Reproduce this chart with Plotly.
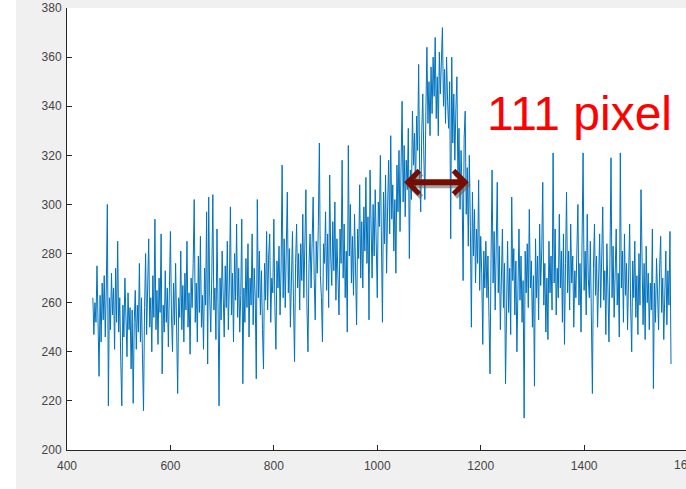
import plotly.graph_objects as go

# ---- data ----
x_start = 450
x_step = 2
intensity = [
    262, 247, 260, 252, 275, 250, 230, 263, 244, 268, 253, 271, 246, 266, 300, 218, 262, 249, 272, 255,
    266, 241, 274, 252, 285, 248, 262, 236, 218, 259, 246, 270, 252, 238, 264, 249, 258, 233, 257, 219,
    252, 265, 241, 259, 248, 276, 244, 262, 237, 216, 258, 280, 247, 266, 286, 250, 262, 240, 271, 254,
    294, 249, 265, 243, 270, 256, 288, 231, 259, 248, 273, 252, 266, 242, 261, 289, 255, 240, 268, 251,
    276, 246, 223, 262, 254, 281, 249, 267, 244, 272, 257, 285, 250, 264, 239, 270, 258, 276, 302, 252,
    268, 244, 279, 256, 287, 250, 263, 241, 274, 259, 297, 235, 303, 262, 248, 271, 304, 257, 266, 245,
    290, 260, 218, 270, 253, 281, 262, 246, 275, 258, 285, 249, 268, 299, 255, 272, 244, 280, 261, 292,
    254, 274, 248, 263, 294, 227, 266, 252, 278, 258, 284, 246, 270, 259, 288, 251, 274, 262, 229, 302,
    262, 281, 255, 273, 249, 233, 276, 261, 289, 257, 279, 288, 252, 270, 264, 294, 258, 241, 277, 266,
    283, 255, 274, 316, 262, 286, 258, 277, 305, 264, 282, 250, 271, 289, 260, 236, 276, 292, 266, 280,
    257, 284, 269, 296, 262, 281, 306, 258, 240, 276, 288, 266, 295, 303, 270, 253, 285, 272, 291, 325,
    271, 262, 244, 284, 276, 297, 265, 288, 258, 312, 279, 267, 293, 273, 301, 261, 286, 270, 255, 290,
    276, 318, 270, 292, 262, 281, 248, 324, 279, 300, 268, 287, 263, 296, 275, 251, 290, 278, 308, 270,
    293, 266, 299, 281, 311, 276, 295, 253, 314, 284, 270, 300, 279, 306, 287, 262, 301, 291, 320, 282,
    252, 305, 284, 312, 272, 299, 318, 288, 328, 294, 308, 281, 302, 272, 316, 297, 322, 289, 312, 342,
    301, 324, 295, 318, 306, 331, 278, 314, 302, 338, 316, 329, 305, 336, 322, 357, 312, 297, 330, 345,
    320, 302, 338, 364, 333, 350, 328, 356, 337, 360, 344, 368, 335, 352, 328, 362, 345, 358, 372, 340,
    355, 333, 360, 342, 331, 350, 286, 360, 325, 345, 318, 339, 352, 308, 331, 298, 322, 306, 269, 327,
    338, 296, 315, 283, 320, 291, 250, 305, 279, 298, 268, 290, 276, 310, 265, 287, 272, 243, 281, 266,
    285, 262, 279, 254, 231, 278, 314, 268, 289, 257, 276, 309, 264, 283, 249, 272, 290, 258, 276, 227,
    266, 285, 256, 274, 247, 303, 269, 282, 255, 277, 240, 272, 290, 261, 279, 252, 269, 213, 281, 264,
    284, 258, 298, 266, 277, 250, 271, 226, 286, 262, 279, 253, 292, 267, 281, 309, 259, 276, 248, 270,
    245, 285, 264, 279, 257, 321, 268, 290, 255, 274, 262, 296, 266, 281, 252, 288, 243, 276, 305, 264,
    281, 257, 292, 268, 279, 250, 273, 262, 287, 300, 259, 276, 248, 284, 321, 265, 281, 255, 296, 270,
    262, 285, 251, 223, 274, 292, 263, 279, 250, 270, 288, 258, 276, 299, 261, 273, 247, 284, 266, 244,
    278, 319, 262, 283, 254, 275, 290, 259, 272, 246, 321, 266, 281, 252, 288, 263, 276, 249, 270, 292,
    258, 240, 277, 262, 285, 254, 271, 247, 280, 259, 306, 264, 251, 276, 245, 283, 260, 272, 249, 268,
    257, 290, 225, 268, 252, 278, 260, 249, 274, 287, 256, 270, 245, 266, 281, 251, 273, 259, 289, 235,
]
pixel = [x_start + i * x_step for i in range(len(intensity))]

x_ticks = [400, 600, 800, 1000, 1200, 1400]
y_ticks = [200, 220, 240, 260, 280, 300, 320, 340, 360, 380]
x_range = [400, 1597]
y_range = [200, 380]

# annotation: width marker
arrow_left = 1049
arrow_right = 1177
arrow_level = 309
label_text = "111 pixel"
label_x = 1208
label_y = 337

FONT = "Liberation Sans, Arial, sans-serif"

fig = go.Figure()
fig.add_trace(go.Scatter(
    x=pixel, y=intensity, mode="lines",
    line=dict(color="#0072BD", width=1),
    showlegend=False, hoverinfo="skip",
))

axis_common = dict(
    showgrid=False, zeroline=False, showline=True, linecolor="#262626", linewidth=1,
    ticks="inside", ticklen=5, tickcolor="#262626", tickwidth=1,
    tickfont=dict(family=FONT, size=12, color="#444444"),
)
fig.update_xaxes(range=x_range, tickvals=x_ticks, ticklabelstandoff=5, **axis_common)
fig.update_yaxes(range=y_range, tickvals=y_ticks, ticklabelstandoff=2, **axis_common)

W, H = 686, 489
ml, mr, mt, mb = 67, 0, 8, 39
pw, ph = W - ml - mr, H - mt - mb

fig.update_layout(
    width=W, height=H,
    margin=dict(l=ml, r=mr, t=mt, b=mb, pad=0),
    paper_bgcolor="#f0f0f0", plot_bgcolor="#ffffff",
    shapes=[dict(type="rect", xref="paper", yref="paper", layer="below",
                 x0=-ml / pw - 0.01, x1=-(ml - 16) / pw, y0=-mb / ph - 0.01, y1=1 + mt / ph + 0.01,
                 fillcolor="#ffffff", line=dict(width=0))],
)

# clipped "1600" tick label at right edge
fig.add_annotation(text="1600", xref="paper", yref="paper", x=(620.4) / pw, y=0,
                   xanchor="center", yanchor="middle", yshift=-15, showarrow=False,
                   font=dict(family=FONT, size=12, color="#444444"))

# arrow shadow
fig.add_annotation(x=arrow_right, y=arrow_level, ax=arrow_left, ay=arrow_level,
                   xref="x", yref="y", axref="x", ayref="y", text="",
                   showarrow=True, arrowside="end+start", arrowhead=4, arrowsize=0.75,
                   arrowwidth=6, arrowcolor="rgba(90,90,90,0.55)", xshift=2, yshift=-3,
                   standoff=0, startstandoff=0)
# arrow
fig.add_annotation(x=arrow_right, y=arrow_level, ax=arrow_left, ay=arrow_level,
                   xref="x", yref="y", axref="x", ayref="y", text="",
                   showarrow=True, arrowside="end+start", arrowhead=4, arrowsize=0.75,
                   arrowwidth=6, arrowcolor="#760d02",
                   standoff=0, startstandoff=0)
# label
fig.add_annotation(x=label_x, y=label_y, xref="x", yref="y", text=label_text,
                   showarrow=False, xanchor="left", yanchor="middle",
                   font=dict(family=FONT, size=48, color="#ff0000"))

# remove the default 8px page margin so the figure fills the window exactly
fig.write_html("out.html", config={"displayModeBar": False},
               post_script="document.body.style.margin='0';document.body.style.overflow='hidden';")
